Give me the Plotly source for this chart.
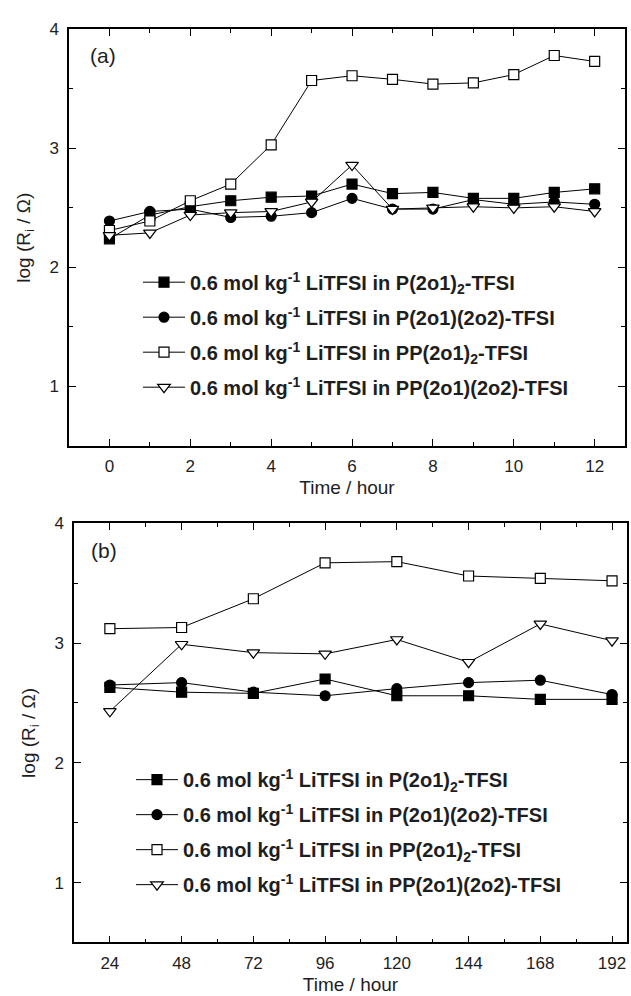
import plotly.graph_objects as go

# ---------------- data ----------------
names = [
    "0.6 mol kg<sup>-1</sup> LiTFSI in P(2o1)<sub>2</sub>-TFSI",
    "0.6 mol kg<sup>-1</sup> LiTFSI in P(2o1)(2o2)-TFSI",
    "0.6 mol kg<sup>-1</sup> LiTFSI in PP(2o1)<sub>2</sub>-TFSI",
    "0.6 mol kg<sup>-1</sup> LiTFSI in PP(2o1)(2o2)-TFSI",
]

# panel (a): 0-12 h
time_a = [0, 1, 2, 3, 4, 5, 6, 7, 8, 9, 10, 11, 12]
p2o1_a = [2.24, 2.44, 2.51, 2.56, 2.59, 2.60, 2.70, 2.62, 2.63, 2.58, 2.58, 2.63, 2.66]
p2o1_2o2_a = [2.39, 2.47, 2.49, 2.42, 2.43, 2.46, 2.58, 2.49, 2.49, 2.57, 2.53, 2.55, 2.53]
pp2o1_a = [2.31, 2.39, 2.56, 2.70, 3.03, 3.57, 3.61, 3.58, 3.54, 3.55, 3.62, 3.78, 3.73]
pp2o1_2o2_a = [2.27, 2.29, 2.44, 2.46, 2.47, 2.55, 2.86, 2.49, 2.50, 2.51, 2.50, 2.51, 2.47]

# panel (b): 24-192 h
time_b = [24, 48, 72, 96, 120, 144, 168, 192]
p2o1_b = [2.63, 2.59, 2.58, 2.70, 2.56, 2.56, 2.53, 2.53]
p2o1_2o2_b = [2.65, 2.67, 2.59, 2.56, 2.62, 2.67, 2.69, 2.57]
pp2o1_b = [3.12, 3.13, 3.37, 3.67, 3.68, 3.56, 3.54, 3.52]
pp2o1_2o2_b = [2.43, 2.99, 2.92, 2.91, 3.03, 2.84, 3.16, 3.02]

x_ticks_a = [0, 2, 4, 6, 8, 10, 12]
x_ticks_b = [24, 48, 72, 96, 120, 144, 168, 192]
y_ticks = [1, 2, 3, 4]

# ---------------- styles ----------------
FONT = "Liberation Sans, Arial, sans-serif"
TXT = "#1e1e1e"
styles = [
    dict(symbol="square", size=10, color="black"),
    dict(symbol="circle", size=10, color="black"),
    dict(symbol="square", size=10, color="white"),
    dict(symbol="triangle-down", size=11, color="white"),
]

fig = go.Figure()

series_a = [p2o1_a, p2o1_2o2_a, pp2o1_a, pp2o1_2o2_a]
series_b = [p2o1_b, p2o1_2o2_b, pp2o1_b, pp2o1_2o2_b]

for i, (nm, ys) in enumerate(zip(names, series_a)):
    st = styles[i]
    fig.add_trace(go.Scatter(
        x=time_a, y=ys, mode="lines+markers", name="<b>" + nm + "</b>",
        line=dict(color="black", width=1),
        marker=dict(symbol=st["symbol"], size=st["size"], color=st["color"],
                    line=dict(color="black", width=1.2)),
        xaxis="x", yaxis="y", legend="legend", legendgroup="a%d" % i,
    ))

for i, (nm, ys) in enumerate(zip(names, series_b)):
    st = styles[i]
    fig.add_trace(go.Scatter(
        x=time_b, y=ys, mode="lines+markers", name="<b>" + nm + "</b>",
        line=dict(color="black", width=1),
        marker=dict(symbol=st["symbol"], size=st["size"], color=st["color"],
                    line=dict(color="black", width=1.2)),
        xaxis="x2", yaxis="y2", legend="legend2", legendgroup="b%d" % i,
    ))

W, H = 631, 996

def px_x(p):
    return p / W

def px_y(p):
    return 1 - p / H

axis_common = dict(
    showline=True, linecolor="black", linewidth=1.5, mirror="allticks",
    ticks="inside", ticklen=7, tickwidth=1.2, tickcolor="black",
    showgrid=False, zeroline=False,
    tickfont=dict(family=FONT, size=17, color=TXT),
)
minor_common = dict(ticks="inside", ticklen=4, tickcolor="black", tickwidth=1.2)
title_font = dict(family=FONT, size=19, color=TXT)

xa = dict(axis_common)
xa.update(domain=[px_x(69), px_x(625)], range=[-1, 12.75], tickmode="array",
          tickvals=x_ticks_a, anchor="y",
          minor=dict(minor_common, dtick=1, tick0=0),
          ticklabelstandoff=4,
          title=dict(text="Time / hour", font=title_font, standoff=6))
ya = dict(axis_common)
ya.update(domain=[px_y(441), px_y(20.5)], range=[0.5, 4], tickmode="array",
          tickvals=y_ticks, anchor="x",
          minor=dict(minor_common, dtick=0.5, tick0=0),
          ticklabelstandoff=5,
          title=dict(text="log (R<sub>i</sub> / Ω)", font=title_font, standoff=14))

xb = dict(axis_common)
xb.update(domain=[px_x(74), px_x(627)], range=[12, 197], tickmode="array",
          tickvals=x_ticks_b, anchor="y2",
          minor=dict(minor_common, dtick=12, tick0=0),
          ticklabelstandoff=4,
          title=dict(text="Time / hour", font=title_font, standoff=6))
yb = dict(axis_common)
yb.update(domain=[px_y(942), px_y(519)], range=[0.5, 4], tickmode="array",
          tickvals=y_ticks, anchor="x2",
          minor=dict(minor_common, dtick=0.5, tick0=0),
          ticklabelstandoff=5,
          title=dict(text="log (R<sub>i</sub> / Ω)", font=title_font, standoff=14))

legend_common = dict(
    bgcolor="rgba(0,0,0,0)", borderwidth=0,
    font=dict(family=FONT, size=20, color=TXT),
    traceorder="grouped", tracegroupgap=6,
    xanchor="left", yanchor="top", itemwidth=42,
)
leg_a = dict(legend_common)
leg_a.update(x=px_x(138), y=px_y(256))
leg_b = dict(legend_common)
leg_b.update(x=px_x(131), y=px_y(758))

fig.update_layout(
    width=W, height=H,
    margin=dict(l=0, r=0, t=0, b=0),
    paper_bgcolor="white", plot_bgcolor="white",
    xaxis=xa, yaxis=ya, xaxis2=xb, yaxis2=yb,
    legend=leg_a, legend2=leg_b,
    showlegend=True,
    annotations=[
        dict(text="(a)", xref="x domain", yref="y domain", x=(102.5 - 69) / 556,
             y=(441 - 46.7) / 420.5, showarrow=False, xanchor="center", yanchor="middle",
             font=dict(family=FONT, size=21, color=TXT)),
        dict(text="(b)", xref="x2 domain", yref="y2 domain", x=(104 - 74) / 553,
             y=(942 - 546.7) / 423, showarrow=False, xanchor="center", yanchor="middle",
             font=dict(family=FONT, size=21, color=TXT)),
    ],
)

fig.write_html(
    "out.html",
    config={"displayModeBar": False},
    post_script="document.body.style.margin='0';document.documentElement.style.overflow='hidden';",
)
